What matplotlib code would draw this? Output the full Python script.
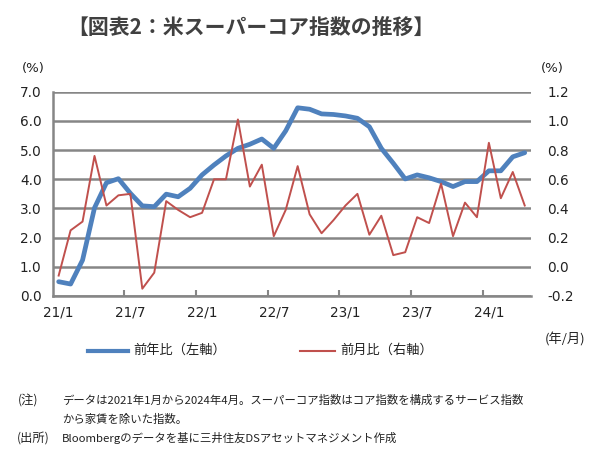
import numpy as np
import matplotlib.pyplot as plt

plt.rcParams['font.family'] = ['Noto Sans CJK JP', 'DejaVu Sans']

months = [f"{y}/{m}" for y in range(21, 25) for m in range(1, 13)][:40]
yoy = [0.49, 0.41, 1.23, 3.02, 3.88, 4.02, 3.52, 3.09, 3.06, 3.49,
       3.40, 3.69, 4.15, 4.49, 4.80, 5.06, 5.20, 5.38, 5.06, 5.66,
       6.45, 6.40, 6.24, 6.22, 6.17, 6.09, 5.80, 5.06, 4.55, 4.01,
       4.15, 4.05, 3.92, 3.75, 3.92, 3.92, 4.29, 4.29, 4.77, 4.91]
mom = [-0.06, 0.25, 0.31, 0.76, 0.42, 0.49, 0.50, -0.15, -0.04, 0.45,
       0.39, 0.34, 0.37, 0.60, 0.60, 1.01, 0.55, 0.70, 0.21, 0.39,
       0.69, 0.36, 0.23, 0.32, 0.42, 0.50, 0.22, 0.35, 0.08, 0.10,
       0.34, 0.30, 0.57, 0.21, 0.44, 0.34, 0.85, 0.47, 0.65, 0.42]
label_idx = [0, 6, 12, 18, 24, 30, 36]

blue = '#4F81BD'
red = '#C0504D'
grid = '#868686'
txt = '#222222'

fig = plt.figure(figsize=(6, 4.57), dpi=100)
ax = fig.add_axes([0.0878, 0.3523, 0.7967, 0.447])
ax2 = ax.twinx()

x = np.arange(len(months))
ax.plot(x, yoy, color=blue, linewidth=3.4, solid_capstyle='round', zorder=3)
ax2.plot(x, mom, color=red, linewidth=1.4, zorder=3)

ax.set_xlim(-0.5, len(months) - 0.5)
ax.set_ylim(0, 7)
ax2.set_ylim(-0.2, 1.2)
ax.set_yticks(np.arange(0, 7.5, 1.0))
ax2.set_yticks(np.arange(-0.2, 1.25, 0.2))
ax.set_yticklabels([f"{v:.1f}" for v in np.arange(0, 7.5, 1.0)], family='DejaVu Sans', fontsize=9.8, color=txt)
ax2.set_yticklabels([f"{v:.1f}" for v in np.arange(-0.2, 1.25, 0.2)], family='DejaVu Sans', fontsize=9.8, color=txt)
ax.yaxis.grid(True, color=grid, linewidth=1.8)
ax.set_axisbelow(True)

ax.set_xticks(label_idx)
ax.set_xticklabels([months[i] for i in label_idx], family='DejaVu Sans', fontsize=9.8, color=txt)
ax.set_xticks([i - 0.5 for i in label_idx[1:]], minor=True)
ax.tick_params(axis='x', which='major', length=0, pad=7)
ax.tick_params(axis='x', which='minor', length=4, width=1.5, color=grid, direction='in')
ax.tick_params(axis='y', length=0, pad=8)
ax2.tick_params(axis='y', length=0, pad=12)

for s in ['top', 'right']:
    ax.spines[s].set_visible(False)
    ax2.spines[s].set_visible(False)
ax2.spines['left'].set_visible(False)
ax2.spines['bottom'].set_visible(False)
ax.spines['left'].set_color(grid)
ax.spines['left'].set_linewidth(1.8)
ax.spines['bottom'].set_color(grid)
ax.spines['bottom'].set_linewidth(1.8)

fig.text(0.055, 0.842, "(%)", fontsize=9.5, color=txt, ha='center', family='DejaVu Sans')
fig.text(0.92, 0.842, "(%)", fontsize=9.5, color=txt, ha='center', family='DejaVu Sans')
fig.text(0.908, 0.248, "(年/月)", fontsize=9.5, color=txt, ha='left')

fig.text(0.418, 0.94, "【図表2：米スーパーコア指数の推移】", fontsize=15, fontweight='bold',
         color='#404040', ha='center', va='center')

# legend drawn by hand
fig.lines.append(plt.Line2D([0.147, 0.213], [0.233, 0.233], color=blue, linewidth=3, transform=fig.transFigure))
fig.text(0.222, 0.233, "前年比（左軸）", fontsize=9.5, color=txt, va='center')
fig.lines.append(plt.Line2D([0.5, 0.558], [0.233, 0.233], color=red, linewidth=1.5, transform=fig.transFigure))
fig.text(0.567, 0.233, "前月比（右軸）", fontsize=9.5, color=txt, va='center')

nfs = 8.2
fig.text(0.03, 0.124, "(注)", fontsize=nfs + 0.6, color=txt, va='center')
fig.text(0.103, 0.124, "データは2021年1月から2024年4月。スーパーコア指数はコア指数を構成するサービス指数",
         fontsize=nfs, color=txt, va='center')
fig.text(0.103, 0.083, "から家賃を除いた指数。", fontsize=nfs, color=txt, va='center')
fig.text(0.028, 0.042, "(出所)", fontsize=nfs + 0.6, color=txt, va='center')
fig.text(0.103, 0.042, "Bloombergのデータを基に三井住友DSアセットマネジメント作成", fontsize=nfs, color=txt, va='center')

fig.savefig('out.png', dpi=100)
